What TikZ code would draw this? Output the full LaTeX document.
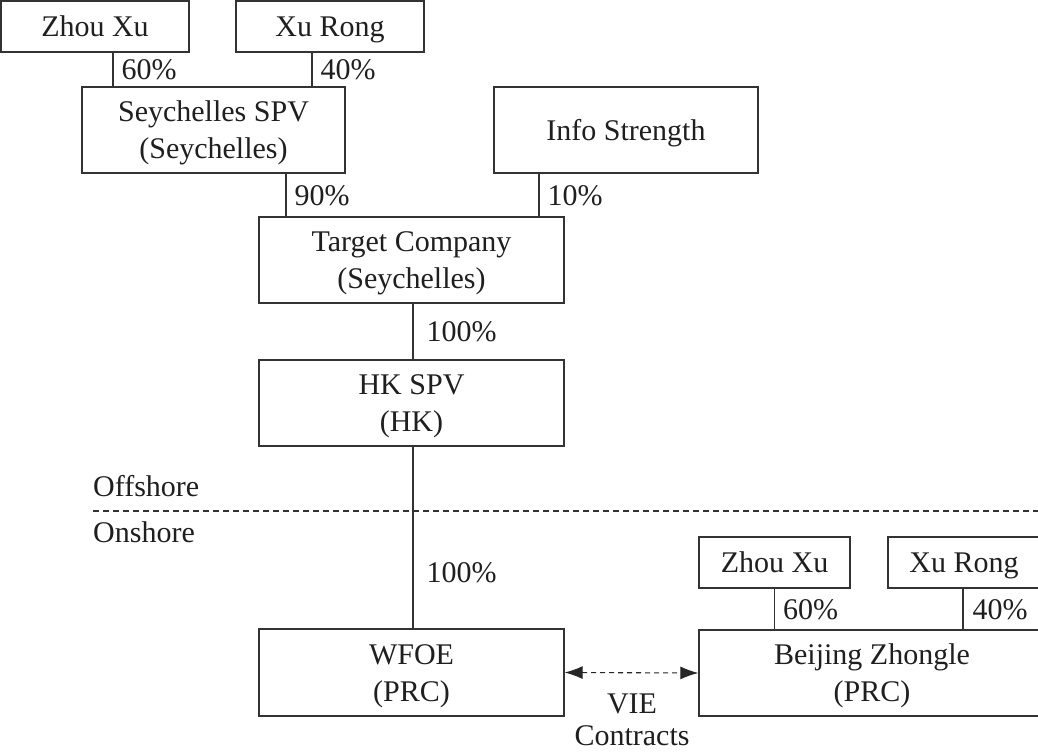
\documentclass[tikz,border=0pt]{standalone}
\usepackage{fontspec}
\setmainfont{Liberation Serif}
\usetikzlibrary{arrows.meta}
\newcommand{\bs}{\rule[-8pt]{0pt}{36pt}}
\begin{document}
\begin{tikzpicture}[x=1pt,y=-1pt,
  every node/.style={font=\fontsize{30}{35}\selectfont, text=black!88},
  box/.style={draw=black!80, line width=1.3pt, rectangle, inner sep=0pt, align=center, anchor=center},
  link/.style={draw=black!80, line width=1.3pt},
  pct/.style={anchor=west, inner sep=0pt},
  sep/.style={draw=black!80, line width=1.1pt, dash pattern=on 6pt off 4pt},
  vie/.style={draw=black!85, line width=1.1pt, dash pattern=on 5pt off 4pt, {Latex[length=18pt,width=13pt]}-{Latex[length=18pt,width=13pt]}}]
\useasboundingbox (0,0) rectangle (1038,752);
\clip (0,0) rectangle (1038,752);
\fill[white] (0,0) rectangle (1038,752);
% boxes
\node[box, minimum width=188pt, minimum height=51pt] (zx1) at (95,26.5) {\bs Zhou Xu};
\node[box, minimum width=188pt, minimum height=51pt] (xr1) at (330,26.5) {\bs Xu Rong};
\node[box, minimum width=263pt, minimum height=86pt] (sey) at (213.5,130) {\bs Seychelles SPV\\\bs(Seychelles)};
\node[box, minimum width=264pt, minimum height=86pt] (info) at (626,130) {\bs Info Strength};
\node[box, minimum width=305pt, minimum height=86pt] (target) at (411.5,260) {\bs Target Company\\\bs(Seychelles)};
\node[box, minimum width=305pt, minimum height=86pt] (hk) at (411.5,403) {\bs HK SPV\\\bs(HK)};
\node[box, minimum width=305pt, minimum height=87pt] (wfoe) at (411.5,672.5) {\bs WFOE\\\bs(PRC)};
\node[box, minimum width=151pt, minimum height=51pt] (zx2) at (774.5,562.5) {\bs Zhou Xu};
\node[box, minimum width=152pt, minimum height=51pt] (xr2) at (964,562.5) {\bs Xu Rong};
\node[box, minimum width=346pt, minimum height=86pt] (bz) at (872,673) {\bs Beijing Zhongle\\\bs(PRC)};
% connectors
\draw[link] ([xshift=18pt]zx1.south) -- ([xshift=18pt]zx1.south |- sey.north)
  node[pct, pos=0.5, xshift=8pt] {\bs 60\%};
\draw[link] ([xshift=-18pt]xr1.south) -- ([xshift=-18pt]xr1.south |- sey.north)
  node[pct, pos=0.5, xshift=8pt] {\bs 40\%};
\draw[link] ([xshift=72.5pt]sey.south) -- ([xshift=72.5pt]sey.south |- target.north)
  node[pct, pos=0.5, xshift=8pt] {\bs 90\%};
\draw[link] ([xshift=-87pt]info.south) -- ([xshift=-87pt]info.south |- target.north)
  node[pct, pos=0.5, xshift=8pt] {\bs 10\%};
\draw[link] ([xshift=1.5pt]target.south) -- ([xshift=1.5pt]target.south |- hk.north)
  node[pct, pos=0.5, xshift=13pt] {\bs 100\%};
\draw[link] ([xshift=1.5pt]hk.south) -- ([xshift=1.5pt]hk.south |- wfoe.north)
  node[pct, pos=0.69, xshift=13pt] {\bs 100\%};
\draw[link] (zx2.south) -- (zx2.south |- bz.north)
  node[pct, pos=0.5, xshift=8pt] {\bs 60\%};
\draw[link] ([xshift=-1pt]xr2.south) -- ([xshift=-1pt]xr2.south |- bz.north)
  node[pct, pos=0.5, xshift=9pt] {\bs 40\%};
% offshore / onshore divider
\coordinate (sepL) at (93,511);
\coordinate (sepR) at (1040,511);
\draw[sep] (sepL) -- (sepR);
\node[anchor=base west, inner sep=0pt] (off) at (93,496) {Offshore};
\node[anchor=base west, inner sep=0pt] (on) at (93,542) {Onshore};
% VIE contracts
\draw[vie] (wfoe.east) -- (bz.west);
\node[inner sep=0pt, anchor=base] (viec) at (632,713) {VIE};
\node[inner sep=0pt, anchor=base] (viec2) at (632,745) {Contracts};
\end{tikzpicture}
\end{document}
